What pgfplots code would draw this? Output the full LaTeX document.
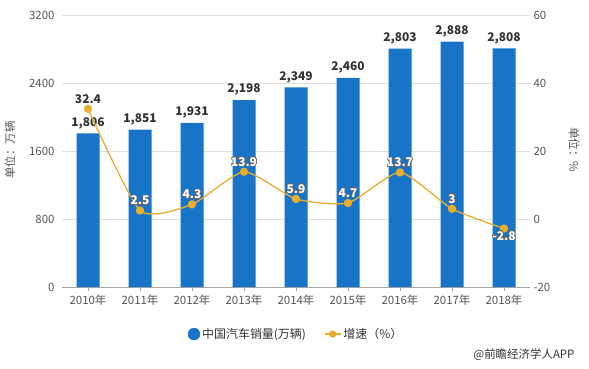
\documentclass[border=0pt]{standalone}
\usepackage{fontspec}
\setmainfont{Noto Sans CJK SC}
\usepackage{pgfplots}
\pgfplotsset{compat=1.18}
\usepackage{contour}
\contourlength{0.5pt}
\definecolor{barblue}{RGB}{24,116,199}
\definecolor{lineorange}{RGB}{234,174,46}
\definecolor{tickgray}{RGB}{85,85,85}
\definecolor{labeldark}{RGB}{51,51,51}
\begin{document}
\begin{tikzpicture}[x=1bp,y=1bp]
\path[use as bounding box] (0,0) rectangle (589,368);
\pgfplotsset{
  common/.style={
    at={(62bp,81bp)}, anchor=south west, scale only axis,
    width=468bp, height=272bp,
    xmin=-0.5, xmax=8.5, clip=false,
    /pgf/number format/assume math mode=true,
    tick label style={font=\fontsize{11.5}{13}\selectfont, text=tickgray},
  }
}
\begin{axis}[common,
  ymin=0, ymax=3200, ytick={0,800,1600,2400,3200},
  axis x line*=bottom, axis y line*=left,
  y axis line style={draw=none},
  x axis line style={draw=gray!70, line width=0.8pt},
  ytick style={draw=none},
  xtick={0,...,8},
  xticklabels={2010年,2011年,2012年,2013年,2014年,2015年,2016年,2017年,2018年},
  xtick style={draw=gray!70},
  tick align=outside, major tick length=4bp,
  ymajorgrids, grid style={gray!25, line width=0.6pt},
  yticklabel style={/pgf/number format/1000 sep={}},
  ybar, bar width=23bp,
  nodes near coords,
  nodes near coords style={font=\fontsize{12}{14}\selectfont\bfseries, text=labeldark, /pgf/number format/1000 sep={,}, yshift=1bp},
]
\addplot[fill=barblue, draw=none] coordinates {
 (0,1806) (1,1851) (2,1931) (3,2198) (4,2349) (5,2460) (6,2803) (7,2888) (8,2808)};
\node[rotate=90, font=\fontsize{11.5}{13}\selectfont, text=tickgray] at (rel axis cs:-0.111,0.504) {单位：万辆};
\end{axis}
\begin{axis}[common,
  ymin=-20, ymax=60, ytick={-20,0,20,40,60},
  axis x line=none, axis y line*=right,
  y axis line style={draw=none}, ytick style={draw=none},
  legend style={at={(0.5,-0.173)}, anchor=center, draw=none, legend columns=2,
     font=\fontsize{12}{14}\selectfont, text=labeldark,
     /tikz/every even column/.append style={column sep=16bp}},
  nodes near coords={\ifnum\coordindex=0 \textcolor{labeldark}{\pgfmathprintnumber{\pgfplotspointmeta}}\else\contour{gray!80!black}{\textcolor{white}{\pgfmathprintnumber{\pgfplotspointmeta}}}\fi},
  nodes near coords style={font=\fontsize{12}{14}\selectfont\bfseries, yshift=1bp},
]
\addlegendimage{legend image code/.code={\fill[barblue] (0.3em,0) circle (6bp);}}
\addlegendentry{中国汽车销量(万辆)}
\addplot[color=lineorange, line width=1.3pt, smooth, tension=0.35, mark=*, mark size=3.5bp,
  mark options={fill=lineorange, draw=lineorange},
  legend image code/.code={\draw[lineorange, line width=1.5pt] (0,0)--(16bp,0); \fill[lineorange] (8bp,0) circle (3bp);}]
 coordinates {(0,32.4) (1,2.5) (2,4.3) (3,13.9) (4,5.9) (5,4.7) (6,13.7) (7,3) (8,-2.8)};
\addlegendentry{增速（\%）}
\node[rotate=-90, font=\fontsize{11.5}{13}\selectfont, text=tickgray] at (rel axis cs:1.094,0.504) {单位：\%};
\end{axis}
\node[anchor=east, font=\fontsize{11.5}{13}\selectfont, text=labeldark] at (578,13) {@前瞻经济学人APP};
\end{tikzpicture}
\end{document}
